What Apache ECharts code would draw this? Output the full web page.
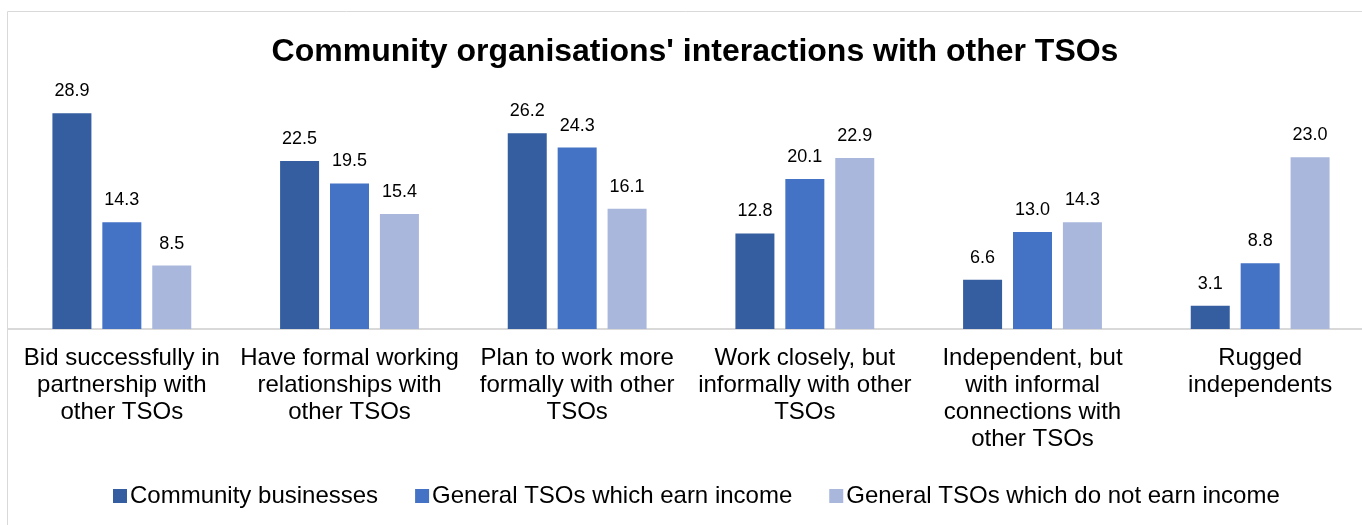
<!DOCTYPE html>
<html>
<head>
<meta charset="utf-8">
<script src="https://cdn.jsdelivr.net/npm/echarts@6/dist/echarts.min.js"></script>
<style>
  html, body { margin: 0; padding: 0; background: #fff; }
  #chart { width: 1362px; height: 525px; }
</style>
</head>
<body>
<div id="chart"></div>
<script>
// categories (line breaks as in the original)
var categories = [
  'Bid successfully in\npartnership with\nother TSOs',
  'Have formal working\nrelationships with\nother TSOs',
  'Plan to work more\nformally with other\nTSOs',
  'Work closely, but\ninformally with other\nTSOs',
  'Independent, but\nwith informal\nconnections with\nother TSOs',
  'Rugged\nindependents'
]
var seriesNames = [
  'Community businesses',
  'General TSOs which earn income',
  'General TSOs which do not earn income'
]
var communityBusinesses = [28.9, 22.5, 26.2, 12.8, 6.6, 3.1]
var tsosEarnIncome = [14.3, 19.5, 24.3, 20.1, 13.0, 8.8]
var tsosNoIncome = [8.5, 15.4, 16.1, 22.9, 14.3, 23.0]
var colors = ['#355ea0', '#4472c4', '#a9b7dc']

var chart = echarts.init(document.getElementById('chart'))

function barSeries (name, data, color) {
  return {
    name: name,
    type: 'bar',
    data: data,
    barWidth: 39,
    barGap: '28%',
    itemStyle: { color: color },
    label: {
      show: true,
      position: 'top',
      distance: 13,
      color: '#000',
      fontSize: 18,
      formatter: function (p) { return p.value.toFixed(1) }
    }
  }
}

var option = {
  animation: false,
  textStyle: { fontFamily: 'Liberation Sans, Arial, sans-serif' },
  graphic: [{
    type: 'rect',
    shape: { x: 7.5, y: 11.5, width: 1362, height: 520 },
    style: { fill: 'none', stroke: '#d9d9d9', lineWidth: 1 },
    silent: true
  }],
  title: {
    text: "Community organisations' interactions with other TSOs",
    left: 690,
    textAlign: 'center',
    top: 31,
    textStyle: { fontSize: 32, fontWeight: 'bold', color: '#000' }
  },
  legend: {
    data: seriesNames,
    top: 484,
    left: 113,
    padding: 0,
    itemWidth: 14,
    itemHeight: 14,
    itemGap: 37,
    icon: 'rect',
    textStyle: { fontSize: 24, color: '#000', padding: [0, 0, 0, -2] }
  },
  grid: {
    left: 8,
    width: 1366,
    top: 105,
    height: 224,
    containLabel: false,
    outerBoundsMode: 'none'
  },
  xAxis: {
    type: 'category',
    data: categories,
    axisTick: { show: false },
    axisLine: { lineStyle: { color: '#d9d9d9', width: 2 } },
    axisLabel: {
      interval: 0,
      fontSize: 24,
      lineHeight: 27,
      color: '#000',
      margin: 16
    }
  },
  yAxis: {
    type: 'value',
    min: 0,
    max: 30,
    show: false,
    splitLine: { show: false }
  },
  series: [
    barSeries(seriesNames[0], communityBusinesses, colors[0]),
    barSeries(seriesNames[1], tsosEarnIncome, colors[1]),
    barSeries(seriesNames[2], tsosNoIncome, colors[2])
  ]
}

chart.setOption(option)
</script>
</body>
</html>
